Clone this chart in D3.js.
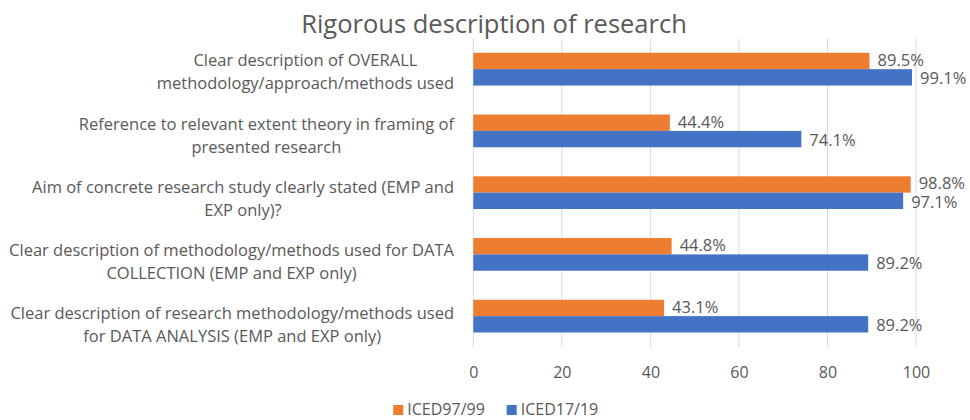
<!DOCTYPE html>
<html>
<head>
<meta charset="utf-8">
<script src="https://cdn.jsdelivr.net/npm/d3@7"></script>
<style>
  body { margin: 0; background: #fff; }
  svg text { font-family: "Open Sans", sans-serif; fill: #595959; }
</style>
</head>
<body>
<svg width="970" height="420"></svg>
<script>
// chart data
var categories = [
  "Clear description of OVERALL\nmethodology/approach/methods used",
  "Reference to relevant extent theory in framing of\npresented research",
  "Aim of concrete research study clearly stated (EMP and\nEXP only)?",
  "Clear description of methodology/methods used for DATA\nCOLLECTION (EMP and EXP only)",
  "Clear description of research methodology/methods used\nfor DATA ANALYSIS (EMP and EXP only)"
];
var iced9799 = [89.5, 44.4, 98.8, 44.8, 43.1];
var iced1719 = [99.1, 74.1, 97.1, 89.2, 89.2];
var seriesNames = ["ICED97/99", "ICED17/19"];
var seriesColors = ["#ED7D31", "#4472C4"];
var xTicks = [0, 20, 40, 60, 80, 100];

var svg = d3.select("svg");

var plotLeft = 473.3, plotRight = 916, plotTop = 38.3, plotBottom = 347;

var x = d3.scaleLinear().domain([0, 100]).range([plotLeft, plotRight]);
var y = d3.scaleBand().domain(d3.range(categories.length))
  .range([plotTop, plotBottom]).paddingInner(0.47).paddingOuter(0.235);
var ySub = d3.scaleBand().domain([0, 1]).range([0, y.bandwidth()]);
// label blocks sit on a slightly wider spacing than the bars
var yLabel = d3.scalePoint().domain(d3.range(categories.length)).range([72, 325]);

// title
svg.append("text")
  .attr("x", 494).attr("y", 33)
  .attr("text-anchor", "middle")
  .style("font-size", "25.5px")
  .text("Rigorous description of research");

// gridlines
svg.append("g").selectAll("line")
  .data(xTicks).enter().append("line")
  .attr("x1", function(d) { return x(d); })
  .attr("x2", function(d) { return x(d); })
  .attr("y1", plotTop).attr("y2", plotBottom)
  .attr("stroke", "#d9d9d9").attr("stroke-width", 1);

// x axis tick labels
var xAxis = svg.append("g")
  .attr("transform", "translate(0," + (plotBottom + 25.5) + ")")
  .call(d3.axisBottom(x).tickValues(xTicks).tickSize(0).tickPadding(0));
xAxis.select(".domain").remove();
xAxis.selectAll("text")
  .attr("dy", "0.35em")
  .style("font-size", "16px")
  .style("font-family", "'Open Sans', sans-serif")
  .attr("fill", "#595959");

// bars
var series = [iced9799, iced1719];
series.forEach(function(vals, s) {
  var g = svg.append("g");
  g.selectAll("rect").data(vals).enter().append("rect")
    .attr("x", x(0))
    .attr("y", function(d, i) { return y(i) + ySub(s); })
    .attr("width", function(d) { return x(d) - x(0); })
    .attr("height", ySub.bandwidth())
    .attr("fill", seriesColors[s]);
  g.selectAll("text").data(vals).enter().append("text")
    .attr("x", function(d) { return x(d) + 8; })
    .attr("y", function(d, i) { return y(i) + ySub(s) + ySub.bandwidth() / 2 + (s === 0 ? -1 : 1); })
    .attr("dy", "0.35em")
    .style("font-size", "16.5px")
    .text(function(d) { return d.toFixed(1) + "%"; });
});

// category labels, centred lines, longest line ending near the axis
var labelRight = 454, lineH = 23;
categories.forEach(function(c, i) {
  var lines = c.split("\n");
  var t = svg.append("text")
    .style("font-size", "16.5px")
    .attr("text-anchor", "middle");
  var spans = t.selectAll("tspan").data(lines).enter().append("tspan").text(function(d) { return d; });
  var maxW = 0;
  spans.each(function() { maxW = Math.max(maxW, this.getComputedTextLength()); });
  var cx = labelRight - maxW / 2;
  var cy = yLabel(i);
  spans.attr("x", cx)
    .attr("y", function(d, j) { return cy + (j - (lines.length - 1) / 2) * lineH; })
    .attr("dy", "0.35em");
});

// legend
var legend = svg.append("g");
var legX = [393.3, 506.7];
seriesNames.forEach(function(n, s) {
  legend.append("rect")
    .attr("x", legX[s]).attr("y", 405)
    .attr("width", 10).attr("height", 10)
    .attr("fill", seriesColors[s]);
  legend.append("text")
    .attr("x", legX[s] + 14).attr("y", 409)
    .attr("dy", "0.35em")
    .style("font-size", "16px")
    .text(n);
});
</script>
</body>
</html>
